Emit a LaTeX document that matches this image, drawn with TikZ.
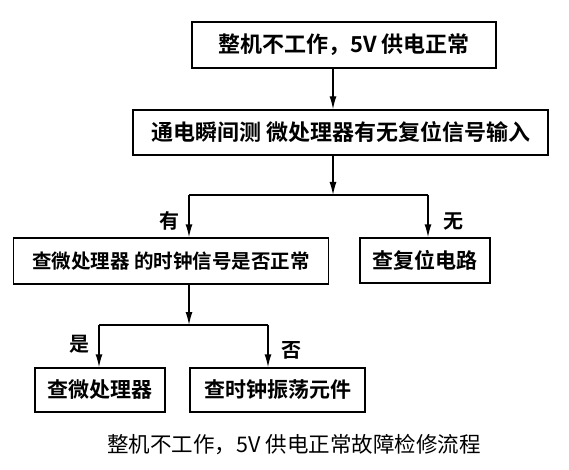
\documentclass[tikz,border=0pt]{standalone}
\usepackage{fontspec}
\setmainfont{Noto Sans CJK SC}
\newfontfamily\cjkbold{Noto Sans CJK SC Bold}
\usepackage{tikz}
\usetikzlibrary{arrows.meta, positioning}

\tikzset{
    kuang/.style={draw, line width=1.4pt, inner sep=0pt, font=\cjkbold\fontsize{21}{21}\selectfont},
    dazi/.style={font=\cjkbold\fontsize{22}{22}\selectfont},
    jiantou/.style={line width=1.4pt, -{Latex[length=13pt, width=7pt]}},
    xian/.style={line width=1.4pt},
    biaoqian/.style={font=\cjkbold\fontsize{20}{20}\selectfont}
}

\begin{document}
\begin{tikzpicture}[x=1pt, y=-1pt]

            % 背景与边界
            \fill[white] (0,0) rectangle (569,470);
            \useasboundingbox (0,0) rectangle (569,470);

            % 方框
            \node[kuang, dazi, minimum width=304pt, minimum height=46pt] (zhengji) at (344,45) {整机不工作，5V 供电正常};
            \node[kuang, dazi, minimum width=415pt, minimum height=45pt] (fuwei) at (340.5,132.5) {通电瞬间测 微处理器有无复位信号输入};
            \node[kuang, font=\cjkbold\fontsize{19.5}{19.5}\selectfont, minimum width=315pt, minimum height=46pt] (shizhong) at (171,261) {查微处理器 的时钟信号是否正常};
            \node[kuang, minimum width=130pt, minimum height=45pt] (fuweidl) at (425,260.5) {查复位电路};
            \node[kuang, minimum width=130pt, minimum height=44pt] (weichuli) at (100,390) {查微处理器};
            \node[kuang, minimum width=175pt, minimum height=44pt] (zhendang) at (277.5,390) {查时钟振荡元件};

            % 分支点
            \coordinate (fen1) at (333,195);
            \coordinate (you) at (189,195);
            \coordinate (wu) at (428,195);
            \coordinate (fen2) at (189,325);
            \coordinate (shi) at (99,325);
            \coordinate (fou) at (268,325);

            % 连线
            \draw[jiantou] (zhengji.south -| fen1) -- (fuwei.north -| fen1);
            \draw[jiantou] (fuwei.south -| fen1) -- (fen1);
            \draw[xian] (you) -- (wu);
            \draw[jiantou] (you) -- (shizhong.north -| you);
            \draw[jiantou] (wu) -- (fuweidl.north -| wu);
            \draw[jiantou] (shizhong.south -| fen2) -- (fen2);
            \draw[xian] (shi) -- (fou);
            \draw[jiantou] (shi) -- (weichuli.north -| shi);
            \draw[jiantou] (fou) -- (zhendang.north -| fou);

            % 标签
            \node[biaoqian] (youbq) at (169,221) {有};
            \node[biaoqian] (wubq) at (453,222) {无};
            \node[biaoqian] (shibq) at (79,344) {是};
            \node[biaoqian] (foubq) at (291,350) {否};

            % 图题
            \node[font=\fontsize{21.5}{21.5}\selectfont] (titi) at (294,445) {整机不工作，5V 供电正常故障检修流程};

            \end{tikzpicture}
\end{document}
